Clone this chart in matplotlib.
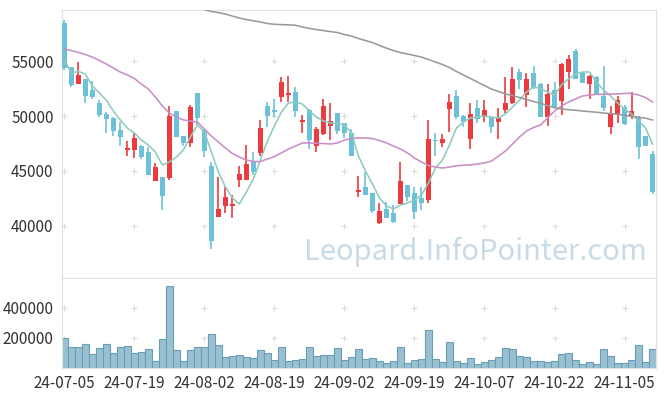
import numpy as np
import matplotlib.pyplot as plt

plt.rcParams['font.family'] = ['Noto Sans CJK KR', 'DejaVu Sans']

# daily candles, 2024-07-05 .. 2024-11-11 (trading days)
opens = [58430, 54430, 52940, 53360, 52340, 51180, 50180, 49820, 48700, 46940,
         46880, 47300, 46730, 44120, 44430, 44390, 50450, 48180, 47570, 52060,
         48730, 45450, 40820, 41820, 41820, 44210, 44210, 45790, 46660, 50910,
         50550, 51750, 51910, 52180, 49480, 50550, 47300, 48390, 49120, 50270,
         49340, 48480, 43060, 43520, 42970, 40250, 41550, 41180, 42030, 43730,
         43000, 42550, 42390, 47820, 47570, 50640, 51820, 50000, 47940, 50700,
         49880, 49880, 49480, 50570, 51150, 53970, 51910, 53880, 52880, 49940,
         52360, 51390, 53970, 55880, 53970, 52940, 53570, 51820, 49030, 50090,
         50790, 49940, 49940, 48180, 46550]
highs = [58700, 54500, 54880, 53400, 53210, 51480, 50360, 49900, 49480, 47750,
         48430, 47400, 47210, 45700, 44450, 50910, 50500, 48200, 51000, 52100,
         48800, 45790, 44430, 43570, 42790, 45480, 47340, 46700, 49640, 51250,
         51520, 53570, 53640, 52610, 50090, 50600, 49030, 51520, 51200, 50300,
         49400, 48790, 44550, 44910, 43000, 42060, 42180, 41900, 45820, 43750,
         43520, 43520, 49640, 48480, 48340, 51970, 52360, 50050, 51150, 51450,
         51450, 49900, 50750, 53570, 54480, 54250, 53880, 54550, 53000, 52880,
         53060, 54800, 55550, 56090, 54000, 53700, 53600, 54550, 50940, 51850,
         51000, 52150, 50000, 48200, 46820]
lows = [54180, 52660, 52900, 51150, 51550, 49940, 48430, 48210, 47300, 46340,
        46150, 46060, 44600, 44100, 41450, 44180, 48100, 47300, 47150, 49180,
        46300, 37940, 40800, 41150, 40700, 43570, 44200, 44640, 46400, 49030,
        49940, 51250, 51300, 49940, 48480, 46970, 46700, 48300, 47820, 48340,
        47970, 46350, 42660, 42800, 41150, 40200, 40700, 40300, 42000, 42270,
        40610, 41450, 42060, 46390, 47210, 48570, 49700, 48970, 46970, 49390,
        49480, 48430, 47910, 50250, 51100, 52450, 50850, 52500, 49900, 49120,
        50800, 50060, 52430, 53350, 53000, 51520, 51950, 50480, 48340, 49340,
        49200, 49730, 46090, 47250, 42910]
closes = [54390, 52850, 53700, 51850, 51750, 50090, 49730, 48640, 48120, 47090,
          48000, 46300, 44660, 45360, 42750, 50000, 48120, 47570, 50790, 49850,
          46820, 38640, 41570, 42640, 42000, 44730, 45640, 44940, 48910, 50000,
          50390, 53090, 52090, 50480, 49640, 47820, 48820, 50910, 49550, 48660,
          48480, 46390, 43270, 42850, 41390, 41360, 40760, 40390, 44090, 42640,
          41300, 42120, 47910, 47730, 47910, 51270, 49940, 49480, 50180, 49750,
          50570, 49030, 49820, 51180, 53340, 53300, 53340, 52570, 49940, 52000,
          50850, 54730, 55180, 53390, 53030, 53610, 52000, 50760, 50250, 51450,
          49270, 50450, 47210, 47300, 43120]
volumes = [200000, 142000, 142000, 162000, 96000, 136000, 162000, 102000, 142000, 149000,
           102000, 109000, 129000, 49000, 196000, 549000, 122000, 49000, 122000, 142000,
           142000, 229000, 156000, 76000, 82000, 89000, 76000, 69000, 122000, 102000,
           56000, 142000, 49000, 56000, 62000, 142000, 82000, 89000, 89000, 136000,
           56000, 76000, 129000, 62000, 69000, 49000, 36000, 49000, 142000, 36000,
           56000, 62000, 256000, 62000, 42000, 176000, 49000, 36000, 69000, 29000,
           42000, 56000, 76000, 136000, 129000, 82000, 76000, 49000, 49000, 42000,
           49000, 96000, 102000, 56000, 29000, 42000, 29000, 129000, 82000, 36000,
           36000, 56000, 156000, 42000, 129000]

# moving averages as drawn
ma5 = [55140, 53910, 54060, 53820, 52730, 52090, 51450, 50450, 49640, 48910,
       48450, 47820, 47360, 46730, 45550, 45820, 46270, 46910, 48090, 49180,
       48550, 46730, 44910, 43550, 42550, 42000, 43090, 44270, 46000, 47730,
       49090, 50360, 51180, 51270, 51090, 50450, 49910, 49550, 49360, 49340,
       49180, 48450, 46360, 45000, 43820, 42550, 41820, 41550, 41910, 42090,
       42360, 42820, 43910, 45270, 46000, 47360, 48910, 49450, 49820, 49910,
       50000, 49910, 49820, 50180, 50820, 51450, 52180, 52640, 52500, 52180,
       51910, 52820, 53360, 53820, 54000, 54000, 53090, 52360, 51820, 51180,
       50640, 50180, 49550, 48910, 47450]
ma20 = [56090, 55950, 55790, 55590, 55360, 55050, 54730, 54360, 54000, 53730,
        53410, 52910, 52450, 51730, 50910, 50270, 49910, 49640, 49550, 49450,
        48820, 48180, 47640, 47090, 46590, 46270, 46000, 45860, 45860, 46090,
        46320, 46640, 47000, 47270, 47550, 47550, 47520, 47500, 47450, 47550,
        47820, 47950, 48000, 48000, 47950, 47770, 47550, 47270, 47000, 46640,
        46180, 45820, 45500, 45360, 45270, 45360, 45480, 45520, 45550, 45640,
        45730, 45910, 46360, 46820, 47450, 48090, 48640, 48950, 49180, 49820,
        50450, 50910, 51270, 51550, 51820, 51910, 51970, 51980, 52000, 52000,
        52050, 52060, 51910, 51680, 51270]
ma60 = [59680, 59500, 59410, 59270, 59090, 58910, 58770, 58660, 58550, 58410,
        58340, 58310, 58290, 58250, 58090, 57970, 57860, 57770, 57680, 57590,
        57410, 57270, 57050, 56860, 56680, 56410, 56180, 55950, 55770, 55640,
        55500, 55360, 55140, 54910, 54680, 54410, 54050, 53730, 53410, 53090,
        52770, 52450, 52230, 52000, 51860, 51680, 51500, 51320, 51150, 50950,
        50750, 50640, 50570, 50530, 50450, 50400, 50340, 50270, 50220, 50150,
        50070, 49980, 49890, 49800, 49640]
ma60_start = 20

tick_labels = ['24-07-05', '24-07-19', '24-08-02', '24-08-19', '24-09-02',
               '24-09-19', '24-10-07', '24-10-22', '24-11-05']
price_ticks = [40000, 45000, 50000, 55000]
vol_ticks = [200000, 400000]

o = np.array(opens)
h = np.array(highs)
l = np.array(lows)
c = np.array(closes)
x = np.arange(len(o))
up = c >= o
colors = np.where(up, '#ec3a3f', '#6cc1d9')

W, H = 665, 396
fig = plt.figure(figsize=(W / 100, H / 100), dpi=100)
left, right = 62 / W, 655.7 / W
ax = fig.add_axes([left, 1 - 278 / H, right - left, (278 - 10) / H])
axv = fig.add_axes([left, 1 - 368 / H, right - left, (368 - 278) / H], sharex=ax)

ax.vlines(x, l, h, colors=colors, lw=1.2, zorder=2)
body_lo = np.minimum(o, c)
body_h = np.maximum(np.abs(c - o), 120)
ax.bar(x, body_h, bottom=body_lo, width=0.67, color=colors, zorder=3)

ax.plot(x, ma5, color='#8ecbbe', lw=1.15, zorder=4)
ax.plot(x, ma20, color='#c98ec6', lw=1.15, zorder=4)
ax.plot(x[ma60_start:], ma60, color='#999999', lw=1.15, zorder=4)

axv.bar(x, volumes, width=1.0, color='#98c0d0', edgecolor='#6a9eb6', lw=0.8, zorder=2)

ticks = np.arange(0, 90, 10)
ax.set_xlim(-0.33, 84.45)
ax.set_ylim(35270, 59640)
axv.set_ylim(0, 600000)

for a, yt in ((ax, price_ticks), (axv, vol_ticks)):
    a.set_yticks(yt)
    a.set_yticklabels([str(v) for v in yt])
    a.tick_params(length=0, labelsize=11, labelcolor='#333333', pad=6)
    for s in a.spines.values():
        s.set_color('#e2e2e2')
    xs, ys = np.meshgrid(ticks, yt)
    a.scatter(xs.ravel(), ys.ravel(), marker='+', s=18, color='#dddddd',
              lw=0.8, zorder=1, clip_on=False)

ax.set_xticks(ticks)
ax.tick_params(axis='x', labelbottom=False)
axv.set_xticks(ticks)
axv.set_xticklabels(tick_labels)
axv.tick_params(axis='x', pad=5)

ax.text(0.696, 0.097, 'Leopard.InfoPointer.com', transform=ax.transAxes,
        fontsize=21, color='#c8dbe6', ha='center', va='center', zorder=0)

fig.savefig('out.png', dpi=100)
